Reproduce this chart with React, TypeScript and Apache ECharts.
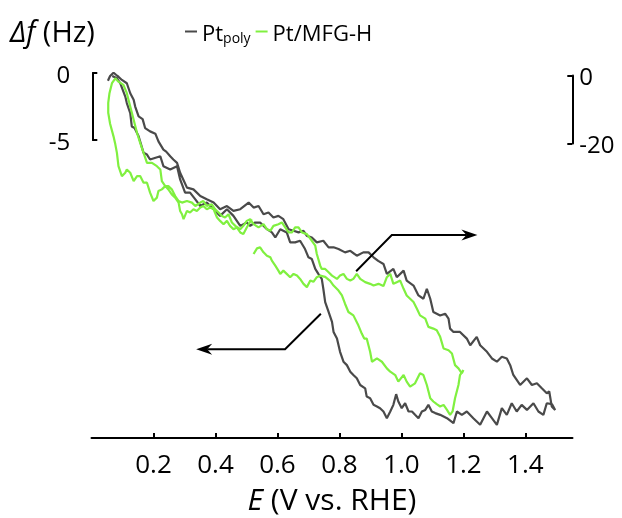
import { useEffect, useRef } from "react";
import * as echarts from "echarts";

const FONT = '"Open Sans", "Noto Sans", sans-serif';

const xTicks = [0.2, 0.4, 0.6, 0.8, 1.0, 1.2, 1.4];
const leftBarRange = [-5, 0];
const rightBarRange = [-20, 0];

// Pt_poly: [E (V vs. RHE), Δf (Hz)] on the left (-5 Hz) scale
const ptPoly: [number, number][] = [
  [0.053,-0.58],[0.060,-0.22],[0.071,0.02],[0.080,-0.15],[0.087,-0.28],[0.098,-0.52],[0.114,-0.77],[0.125,-1.52],[0.136,-2.01],[0.141,-2.52],
  [0.152,-3.26],[0.165,-3.46],[0.173,-4.13],[0.189,-4.38],[0.206,-4.55],[0.216,-5.13],[0.232,-5.75],[0.241,-5.90],[0.254,-6.25],[0.264,-6.49],
  [0.276,-6.74],[0.286,-7.49],[0.296,-7.99],[0.308,-8.60],[0.329,-8.73],[0.351,-9.23],[0.372,-9.48],[0.394,-9.72],[0.415,-10.22],[0.437,-9.98],
  [0.458,-10.35],[0.480,-10.22],[0.507,-9.72],[0.523,-10.10],[0.539,-9.98],[0.555,-10.60],[0.571,-10.47],[0.587,-10.84],[0.603,-10.72],[0.619,-10.97],
  [0.636,-11.72],[0.652,-11.84],[0.668,-11.96],[0.684,-11.84],[0.695,-12.22],[0.711,-12.34],[0.727,-12.71],[0.748,-12.59],[0.765,-13.08],[0.781,-13.08],
  [0.797,-13.21],[0.818,-13.46],[0.835,-13.34],[0.856,-13.71],[0.877,-13.46],[0.894,-13.46],[0.910,-13.83],[0.925,-14.10],[0.942,-14.33],[0.953,-15.07],
  [0.974,-14.70],[0.985,-15.32],[1.007,-14.83],[1.017,-15.58],[1.039,-15.95],[1.055,-16.69],[1.071,-16.94],[1.082,-16.19],[1.093,-16.94],[1.103,-17.93],
  [1.125,-18.19],[1.141,-18.06],[1.152,-18.43],[1.157,-19.18],[1.168,-19.43],[1.189,-19.43],[1.211,-19.93],[1.222,-20.43],[1.243,-19.80],[1.254,-20.43],
  [1.276,-20.92],[1.292,-21.42],[1.308,-21.66],[1.324,-21.29],[1.340,-21.42],[1.351,-21.92],[1.361,-22.66],[1.383,-23.41],[1.405,-22.91],[1.421,-23.41],
  [1.437,-23.28],[1.453,-23.66],[1.469,-24.03],[1.477,-23.90],[1.485,-25.02],[1.496,-25.28],
  [1.486,-24.85],[1.469,-24.78],[1.458,-25.65],[1.442,-25.40],[1.426,-24.78],[1.405,-25.28],[1.388,-24.90],[1.372,-25.40],[1.356,-24.78],[1.340,-25.65],
  [1.324,-25.15],[1.308,-26.40],[1.292,-25.90],[1.276,-25.40],[1.254,-26.40],[1.232,-25.90],[1.211,-25.40],[1.195,-25.65],[1.179,-25.40],[1.168,-26.27],
  [1.147,-25.90],[1.125,-25.65],[1.109,-25.52],[1.098,-25.40],[1.087,-24.90],[1.077,-25.28],[1.066,-25.40],[1.055,-25.90],[1.044,-25.65],[1.034,-25.40],
  [1.023,-25.40],[1.012,-24.78],[1.001,-25.15],[0.990,-24.65],[0.983,-24.10],[0.974,-24.90],[0.964,-25.40],[0.953,-25.90],[0.942,-25.40],[0.931,-25.15],
  [0.921,-25.02],[0.910,-24.90],[0.899,-24.40],[0.888,-24.28],[0.883,-23.66],[0.867,-23.41],[0.856,-22.91],[0.845,-22.66],[0.835,-22.41],[0.824,-21.92],
  [0.813,-21.66],[0.802,-20.92],[0.792,-19.93],[0.781,-19.43],[0.776,-18.68],[0.765,-17.93],[0.754,-17.19],[0.748,-16.19],[0.743,-15.45],[0.732,-15.07],
  [0.722,-14.70],[0.711,-13.96],[0.700,-13.83],[0.689,-13.21],[0.673,-12.59],[0.657,-12.71],[0.641,-12.71],[0.630,-11.96],[0.609,-11.72],[0.593,-12.34],
  [0.582,-11.96],[0.566,-11.72],[0.544,-11.22],[0.528,-11.22],[0.512,-11.47],[0.501,-11.22],[0.480,-11.47],[0.458,-10.72],[0.437,-10.22],[0.415,-10.72],
  [0.394,-10.22],[0.372,-9.72],[0.351,-9.98],[0.335,-9.48],[0.318,-8.98],[0.302,-8.98],[0.286,-7.99],[0.276,-6.99],[0.254,-7.24],[0.232,-6.99],
  [0.222,-6.25],[0.189,-6.49],[0.179,-6.12],[0.168,-5.99],[0.152,-4.75],[0.139,-4.13],[0.130,-4.01],[0.125,-3.01],[0.114,-2.26],[0.109,-1.77],
  [0.093,-0.77],[0.082,-0.40],[0.067,-0.22],
];

// Pt/MFG-H: [E (V vs. RHE), Δf (Hz)] on the right (-20 Hz) scale
const ptMfgH: [number, number][] = [
  [0.523,-52.79],[0.534,-51.12],[0.544,-50.82],[0.555,-52.29],[0.566,-53.29],[0.577,-53.76],[0.582,-54.76],[0.593,-56.24],[0.603,-57.71],[0.609,-58.68],
  [0.619,-57.71],[0.630,-58.68],[0.641,-59.65],[0.652,-58.68],[0.663,-59.18],[0.673,-60.15],[0.684,-61.62],[0.695,-62.59],[0.706,-60.65],[0.716,-61.03],
  [0.727,-59.65],[0.738,-59.18],[0.754,-59.56],[0.770,-60.74],[0.781,-62.12],[0.797,-63.59],[0.808,-65.06],[0.818,-67.50],[0.829,-69.94],[0.845,-70.94],
  [0.861,-73.88],[0.872,-76.32],[0.880,-77.79],[0.888,-77.79],[0.899,-81.71],[0.905,-84.65],[0.921,-83.68],[0.937,-84.65],[0.953,-86.62],[0.964,-87.59],
  [0.980,-88.59],[0.990,-90.53],[1.007,-88.59],[1.017,-90.53],[1.028,-92.00],[1.044,-91.03],[1.060,-88.09],[1.071,-88.59],[1.082,-91.53],[1.093,-95.44],
  [1.103,-96.41],[1.114,-97.21],[1.125,-97.88],[1.136,-97.41],[1.147,-98.88],[1.157,-100.35],[1.165,-99.35],[1.173,-95.44],[1.184,-91.53],[1.189,-88.59],
  [1.200,-87.12],
  [1.195,-88.09],[1.184,-86.62],[1.173,-85.65],[1.163,-82.21],[1.152,-81.24],[1.136,-80.74],[1.125,-77.29],[1.114,-75.35],[1.103,-74.85],[1.087,-74.35],
  [1.077,-71.91],[1.060,-70.94],[1.050,-68.97],[1.039,-67.00],[1.028,-66.03],[1.017,-65.06],[1.007,-63.09],[0.996,-60.65],[0.985,-61.12],[0.974,-61.62],
  [0.964,-58.68],[0.953,-59.65],[0.942,-62.29],[0.926,-61.62],[0.910,-62.12],[0.899,-61.62],[0.883,-61.12],[0.867,-60.15],[0.856,-58.68],[0.845,-60.15],
  [0.835,-60.65],[0.824,-60.15],[0.813,-58.68],[0.802,-59.18],[0.792,-60.15],[0.776,-59.18],[0.765,-58.18],[0.754,-57.21],[0.743,-57.21],[0.738,-56.24],
  [0.727,-52.79],[0.722,-50.35],[0.711,-48.88],[0.695,-46.91],[0.679,-46.41],[0.668,-44.94],[0.657,-44.94],[0.647,-46.41],[0.636,-46.41],[0.625,-44.94],
  [0.614,-43.47],[0.603,-43.97],[0.587,-44.47],[0.577,-45.94],[0.566,-45.44],[0.555,-43.97],[0.539,-44.94],[0.523,-43.97],[0.512,-42.50],[0.501,-43.00],
  [0.490,-44.47],[0.480,-45.44],[0.464,-44.47],[0.453,-43.47],[0.442,-41.03],[0.431,-42.00],[0.421,-41.53],[0.410,-40.53],[0.399,-39.56],[0.388,-38.09],
  [0.372,-38.59],[0.361,-37.12],[0.351,-37.59],[0.335,-38.59],[0.324,-37.59],[0.308,-37.12],[0.292,-37.59],[0.281,-37.12],[0.270,-35.65],[0.259,-33.68],
  [0.248,-32.71],[0.238,-32.71],[0.227,-31.24],[0.222,-27.79],[0.211,-26.82],[0.195,-25.82],[0.179,-25.82],[0.168,-22.88],[0.157,-19.94],[0.147,-17.00],
  [0.136,-13.09],[0.125,-9.18],[0.114,-5.24],[0.103,-2.79],[0.087,-1.82],[0.077,-0.82],[0.066,-2.29],[0.058,-5.24],[0.054,-8.09],[0.054,-11.03],
  [0.060,-14.26],[0.071,-18.00],[0.077,-20.44],[0.082,-22.88],[0.087,-26.82],[0.098,-29.76],[0.109,-28.76],[0.114,-27.79],[0.125,-28.76],[0.136,-31.24],
  [0.147,-29.76],[0.157,-29.76],[0.168,-31.71],[0.179,-31.71],[0.189,-34.65],[0.200,-37.12],[0.211,-36.12],[0.216,-34.18],[0.227,-33.68],[0.238,-32.71],
  [0.248,-33.68],[0.259,-35.15],[0.270,-36.12],[0.281,-37.59],[0.286,-40.06],[0.292,-41.03],[0.297,-42.50],[0.308,-40.06],[0.318,-40.53],[0.329,-39.56],
  [0.340,-40.06],[0.351,-39.06],[0.361,-38.59],[0.372,-39.56],[0.383,-39.06],[0.394,-39.56],[0.405,-42.00],[0.415,-43.00],[0.426,-43.97],[0.437,-43.00],
  [0.447,-44.47],[0.458,-45.44],[0.469,-44.94],[0.480,-46.41],[0.490,-46.91],[0.501,-44.94],[0.517,-42.50],
];

// annotation arrows in data units (E, left-scale Δf)
const arrowLeft: [number, number][] = [[0.740, -18.06], [0.6245, -20.72], [0.3377, -20.72]];
const arrowRight: [number, number][] = [[0.8539, -14.87], [0.969, -12.16], [1.2452, -12.16]];

const GRAY = "#4a4a4a";
const GREEN = "#80f040";

function headPoints(tip: number[], dir: number) {
  const [tx, ty] = tip;
  return {
    head: [[tx, ty], [tx - dir * 16, ty - 5.5], [tx - dir * 11, ty], [tx - dir * 16, ty + 5.5]],
    end: [tx - dir * 11, ty],
  };
}

export default function App() {
  const ref = useRef<HTMLDivElement>(null);
  useEffect(() => {
    const chart = echarts.init(ref.current!, null, { renderer: "svg" });
    const blackAxis = { color: "#000", width: 2 };
    chart.setOption({
      animation: false,
      textStyle: { fontFamily: FONT },
      title: {
        text: "{i|Δf}{n| (Hz)}",
        left: 5,
        top: 11,
        textStyle: {
          fontSize: 29, fontWeight: "normal", color: "#000", fontFamily: FONT,
          rich: {
            i: { fontStyle: "italic", fontSize: 29, fontFamily: FONT, color: "#000" },
            n: { fontSize: 29, fontFamily: FONT, color: "#000" },
          },
        },
      },
      legend: {
        left: 180,
        top: 14,
        icon: "rect",
        itemWidth: 12,
        itemHeight: 2,
        itemGap: 5,
        data: ["Pt_poly", "Pt/MFG-H"],
        formatter: (n: string) => (n === "Pt_poly" ? "{a|Pt}{s|poly}" : "{a|Pt/MFG-H}"),
        textStyle: {
          color: "#000",
          fontFamily: FONT,
          fontSize: 22,
          rich: {
            a: { fontSize: 22, lineHeight: 28, fontFamily: FONT, color: "#000" },
            s: { fontSize: 14, lineHeight: 14, padding: [11, 0, 0, 0], fontFamily: FONT, color: "#000" },
          },
        },
      },
      grid: [
        { left: 91.5, right: 49.5, top: 73, bottom: 78 },
        { left: 92.3, width: 10, top: 73, height: 67 },
        { right: 49.7, width: 10, top: 75.5, height: 68 },
      ],
      xAxis: [
        {
          type: "value", gridIndex: 0, min: 0, max: 1.552,
          axisLine: { onZero: false, lineStyle: blackAxis },
          axisTick: { inside: true, length: 5, customValues: xTicks, lineStyle: blackAxis },
          axisLabel: {
            customValues: xTicks, formatter: (v: number) => v.toFixed(1),
            fontSize: 26, lineHeight: 24, color: "#000", margin: 13, fontFamily: FONT,
          },
          splitLine: { show: false },
          name: "{i|E}{n| (V vs. RHE)}",
          nameLocation: "middle",
          nameGap: 46,
          nameTextStyle: {
            fontSize: 30, color: "#000", fontFamily: FONT,
            rich: {
              i: { fontStyle: "italic", fontSize: 30, lineHeight: 28, fontFamily: FONT, color: "#000" },
              n: { fontSize: 30, lineHeight: 28, fontFamily: FONT, color: "#000" },
            },
          },
        },
        { type: "value", gridIndex: 1, show: false, min: 0, max: 1 },
        { type: "value", gridIndex: 2, show: false, min: 0, max: 1 },
      ],
      yAxis: [
        { type: "value", gridIndex: 0, show: false, min: -27.388, max: 0 },
        { type: "value", gridIndex: 0, show: false, position: "right", min: -107.206, max: 0.735 },
        {
          type: "value", gridIndex: 1, position: "left", min: leftBarRange[0], max: leftBarRange[1], interval: 5,
          axisLine: { show: true, onZero: false, lineStyle: blackAxis },
          axisTick: { show: true, inside: true, length: 5, lineStyle: blackAxis },
          axisLabel: { fontSize: 24, color: "#000", margin: 22, fontFamily: FONT, padding: [5, 0, 0, 0] },
          splitLine: { show: false },
        },
        {
          type: "value", gridIndex: 2, position: "right", min: rightBarRange[0], max: rightBarRange[1], interval: 20,
          axisLine: { show: true, onZero: false, lineStyle: blackAxis },
          axisTick: { show: true, inside: true, length: 5, lineStyle: blackAxis },
          axisLabel: { fontSize: 24, color: "#000", margin: 7, fontFamily: FONT, padding: [6, 0, 0, 0] },
          splitLine: { show: false },
        },
      ],
      series: [
        {
          name: "Pt_poly", type: "line", xAxisIndex: 0, yAxisIndex: 0, data: ptPoly,
          showSymbol: false, symbol: "none", color: GRAY, lineStyle: { color: GRAY, width: 2.2 }, z: 2,
        },
        {
          name: "Pt/MFG-H", type: "line", xAxisIndex: 0, yAxisIndex: 1, data: ptMfgH,
          showSymbol: false, symbol: "none", color: GREEN, lineStyle: { color: GREEN, width: 2.2 }, z: 3,
        },
      ],
    });

    const toPx = (p: [number, number]) => chart.convertToPixel({ xAxisIndex: 0, yAxisIndex: 0 }, p) as number[];
    const lp = arrowLeft.map(toPx);
    const rp = arrowRight.map(toPx);
    const lh = headPoints(lp[2], -1);
    const rh = headPoints(rp[2], 1);
    const lineStyle = { stroke: "#000", lineWidth: 2, fill: null };
    chart.setOption({
      graphic: [
        { type: "polyline", shape: { points: [lp[0], lp[1], lh.end] }, style: lineStyle, z: 10 },
        { type: "polygon", shape: { points: lh.head }, style: { fill: "#000" }, z: 10 },
        { type: "polyline", shape: { points: [rp[0], rp[1], rh.end] }, style: lineStyle, z: 10 },
        { type: "polygon", shape: { points: rh.head }, style: { fill: "#000" }, z: 10 },
      ],
    });
    return () => chart.dispose();
  }, []);
  return <div ref={ref} style={{ position: "fixed", left: 0, top: 0, width: 622, height: 518 }} />;
}
